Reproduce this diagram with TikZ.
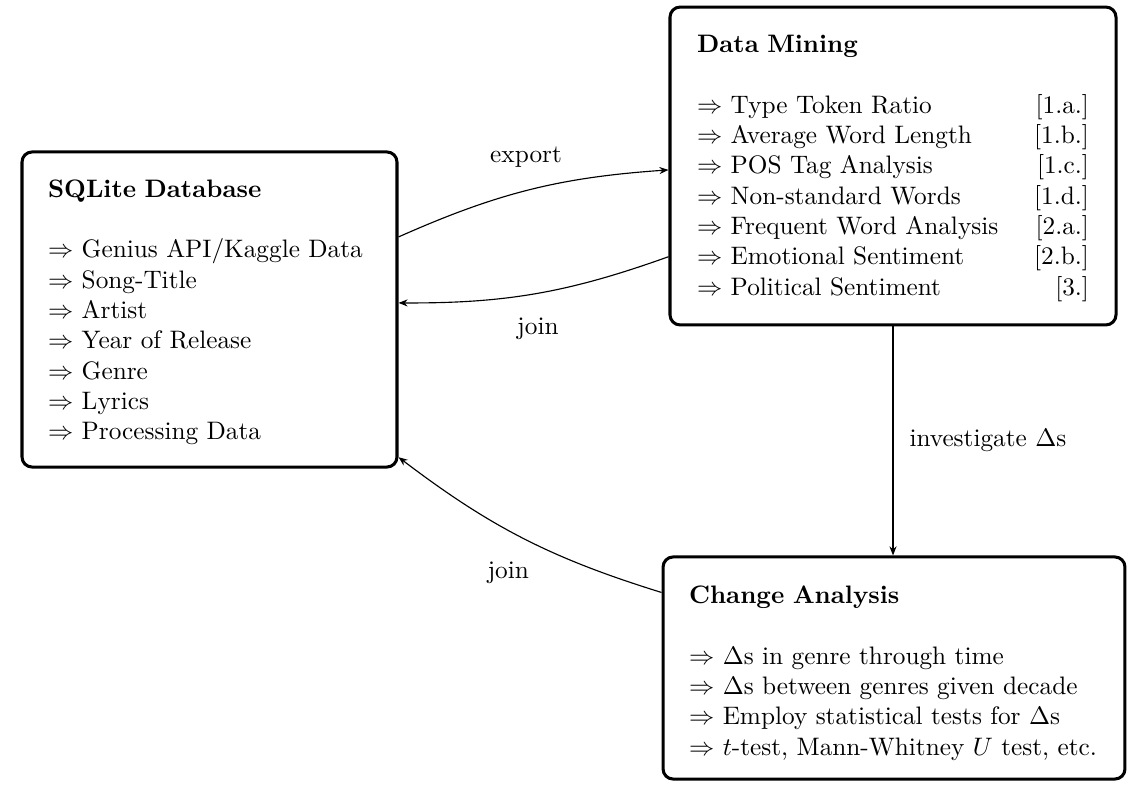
\documentclass[tikz,border=0pt]{standalone}
\usetikzlibrary{arrows.meta}
\newcommand\rfill{\hskip 0pt plus 1fill\relax}
\begin{document}
\begin{tikzpicture}[x=0.39573pt,y=-0.39573pt,
  box/.style={draw, line width=1.2pt, rounded corners=4pt, inner sep=0pt, align=left},
  conn/.style={-{Stealth[length=3.6pt,width=2.8pt]}, line width=0.45pt},
  lbl/.style={inner sep=0pt}]
\useasboundingbox (0,0) rectangle (1142,794);
\node[box, minimum width=148.4pt, minimum height=124.7pt, text width=127.8pt] (sql) at (209.5,309.5) {%
\rule{0pt}{9.2pt}\textbf{SQLite Database}\\[12pt]
\mbox{$\Rightarrow$ Genius API/Kaggle Data}\\
$\Rightarrow$ Song-Title\\
$\Rightarrow$ Artist\\
$\Rightarrow$ Year of Release\\
$\Rightarrow$ Genre\\
$\Rightarrow$ Lyrics\\
$\Rightarrow$ Processing Data};
\node[box, minimum width=176.5pt, minimum height=125.8pt, text width=155.1pt] (dm) at (893,166) {%
\rule{0pt}{8.8pt}\textbf{Data Mining}\\[12pt]
$\Rightarrow$ Type Token Ratio\rfill[1.a.]\\
$\Rightarrow$ Average Word Length\rfill[1.b.]\\
$\Rightarrow$ POS Tag Analysis\rfill[1.c.]\\
$\Rightarrow$ Non-standard Words\rfill[1.d.]\\
$\Rightarrow$ Frequent Word Analysis\rfill[2.a.]\\
$\Rightarrow$ Emotional Sentiment\rfill[2.b.]\\
$\Rightarrow$ Political Sentiment\rfill[3.]};
\node[box, minimum width=182.8pt, minimum height=87.9pt, text width=162.2pt] (ca) at (894,668) {%
\rule{0pt}{11pt}\textbf{Change Analysis}\\[12pt]
\mbox{$\Rightarrow$ $\Delta$s in genre through time}\\
\mbox{$\Rightarrow$ $\Delta$s between genres given decade}\\
\mbox{$\Rightarrow$ Employ statistical tests for $\Delta$s}\\
\mbox{$\Rightarrow$ $t$-test, Mann-Whitney $U$ test, etc.}};
\draw[conn] (sql.21.9) to[bend left=10] node[lbl, midway, xshift=-1.6pt, yshift=13pt] {export} (dm.181.8);
\draw[conn] (dm.202) to[bend left=10] node[lbl, midway, xshift=0.8pt, yshift=-13.9pt] {join} (sql.2);
\draw[conn] (ca.162.7) to[bend left=10] node[lbl, midway, xshift=-5.9pt, yshift=-13.5pt] {join} (sql.-38.2);
\draw[conn] (dm.south) -- node[lbl, midway, right=6.3pt] {investigate $\Delta$s} (dm.south |- ca.north);
\end{tikzpicture}
\end{document}
